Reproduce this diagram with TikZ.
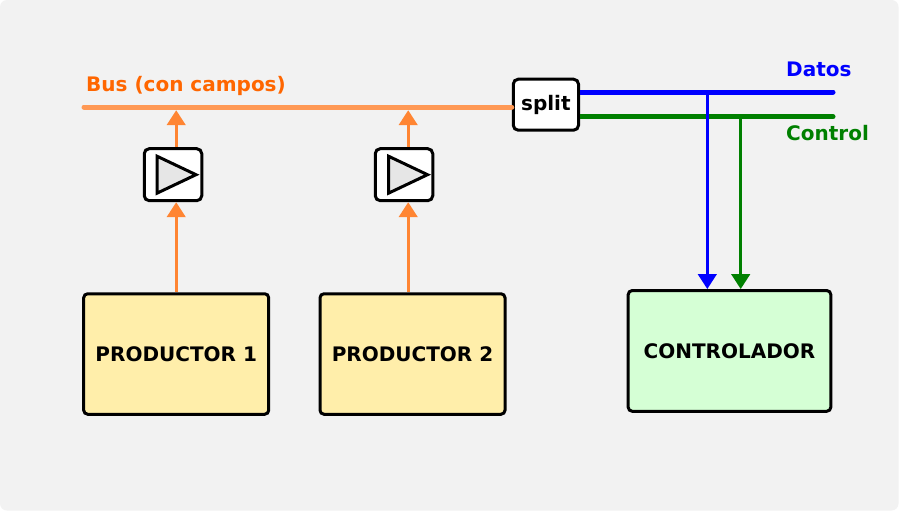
\documentclass[tikz,border=0pt]{standalone}
\usepackage{fontspec}
\setmainfont{DejaVu Sans}
\usetikzlibrary{arrows.meta,calc}
\definecolor{bgc}{HTML}{F2F2F2}
\definecolor{busc}{HTML}{FF9955}
\definecolor{arrc}{HTML}{FF8533}
\definecolor{buslab}{HTML}{FF6600}
\definecolor{prodc}{HTML}{FFEEAA}
\definecolor{ctrlc}{HTML}{D5FFD5}
\definecolor{tric}{HTML}{E6E6E6}
\definecolor{datc}{HTML}{0000FF}
\definecolor{ctlc}{HTML}{008000}
\tikzset{
  txt/.style={font=\bfseries\fontsize{20}{23}\selectfont},
  bigbox/.style={draw=black,line width=3pt,rounded corners=4pt,inner sep=0pt,minimum height=120.5pt,txt},
  bufbox/.style={draw=black,fill=white,line width=3pt,rounded corners=5pt,inner sep=0pt,minimum width=57.5pt,minimum height=52pt},
  tri/.style={draw=black,fill=tric,line width=3pt,line join=miter},
  busline/.style={line width=5pt,line cap=round},
  tap/.style={line width=3pt,-{Triangle[length=15pt,width=18.5pt]}},
}
\begin{document}
\begin{tikzpicture}[x=1pt,y=-1pt]
\useasboundingbox (0,0) rectangle (899,511);
\fill[white] (0,0) rectangle (899,511);
\fill[bgc] (449,0) [rounded corners=7pt] -- (898.5,0) -- (898.5,510.5) -- (0,510.5) -- (0,0) [sharp corners] -- cycle;

% producers and controller
\node[bigbox,fill=prodc,minimum width=185pt] (prod1) at (176.2,354) {PRODUCTOR 1};
\node[bigbox,fill=prodc,minimum width=185pt] (prod2) at (412.5,354) {PRODUCTOR 2};
\node[bigbox,fill=ctrlc,minimum width=202.6pt,minimum height=120.7pt] (ctrl) at (729.5,350.9) {CONTROLADOR};

% buffers
\node[bufbox] (buf1) at (173,174.7) {};
\node[bufbox] (buf2) at (404,174.7) {};
\draw[tri,shift={(buf1.center)}] (-16,-18.5) -- (23,0) -- (-16,18.5) -- cycle;
\draw[tri,shift={(buf2.center)}] (-15.5,-18.5) -- (23.5,0) -- (-15.5,18.5) -- cycle;

% split
\node[draw=black,fill=white,line width=3pt,rounded corners=5pt,inner sep=0pt,minimum width=65.3pt,minimum height=51pt,txt] (split) at (545.9,104.7) {split};

% bus
\coordinate (busL) at (84,107);
\draw[busline,busc] (busL) -- (busL -| split.west);
\node[txt,text=buslab,anchor=base west,inner sep=0pt] (buslabel) at (86,91) {Bus (con campos)};

% producer -> buffer -> bus
\coordinate (x1) at (176.2,110.2);
\coordinate (x2) at (408.2,110.2);
\draw[tap,arrc] (x1 |- prod1.north) -- (x1 |- buf1.south);
\draw[tap,arrc] (x2 |- prod2.north) -- (x2 |- buf2.south);
\draw[tap,arrc] (x1 |- buf1.north) -- (x1);
\draw[tap,arrc] (x2 |- buf2.north) -- (x2);

% split outputs
\coordinate (dR) at (833,92);
\coordinate (cR) at (833,116.7);
\draw[busline,datc,line cap=butt] (split.east |- dR) -- ($(dR)+(-20,0)$);
\draw[busline,datc] ($(dR)+(-20,0)$) -- (dR);
\draw[busline,ctlc,line cap=butt] (split.east |- cR) -- ($(cR)+(-20,0)$);
\draw[busline,ctlc] ($(cR)+(-20,0)$) -- (cR);
\node[txt,text=datc,anchor=base west,inner sep=0pt] (datos) at (786,76) {Datos};
\node[txt,text=ctlc,anchor=base west,inner sep=0pt] (control) at (786,140) {Control};

% taps down to controller
\coordinate (dT) at (707.3,92);
\coordinate (cT) at (740.7,116.7);
\draw[tap,datc] (dT) -- (dT |- ctrl.north);
\draw[tap,ctlc] (cT) -- (cT |- ctrl.north);
\end{tikzpicture}
\end{document}
